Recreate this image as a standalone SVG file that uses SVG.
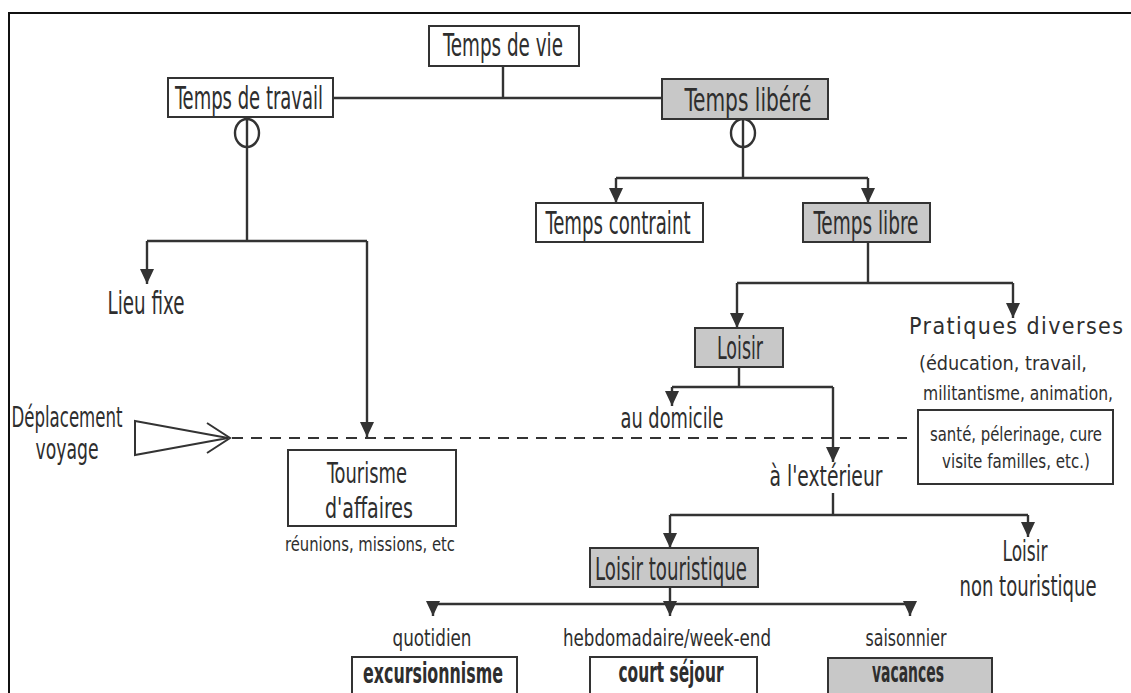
<svg xmlns="http://www.w3.org/2000/svg" width="1131" height="693" viewBox="0 0 1131 693">
<style>
.box{fill:#ffffff;stroke:#333;stroke-width:2}
.gbox{fill:#c8c8c8;stroke:#333;stroke-width:2}
.ln{fill:none;stroke:#333;stroke-width:2.4}
.arr{fill:none;stroke:#333;stroke-width:2.4;marker-end:url(#ah)}
.dash{fill:none;stroke:#333;stroke-width:2.2;stroke-dasharray:11 8}
text{font-family:"Liberation Sans Narrow","DejaVu Sans Condensed","Liberation Sans",sans-serif;fill:#2e2e2e;text-anchor:middle}
.t1{font-size:32px}
.t2{font-size:28px}
.t3{font-size:23px}
.t4{font-size:20px}
.t5{font-size:29px}
.b{font-weight:bold}
</style>
<defs>
<marker id="ah" markerUnits="userSpaceOnUse" markerWidth="16" markerHeight="14" refX="15" refY="7" orient="auto">
<path d="M0,0 L15,7 L0,14 z" fill="#333"/>
</marker>
</defs>
<rect x="0" y="0" width="1131" height="693" fill="#ffffff"/>
<path d="M9,693 V13 H1131" fill="none" stroke="#111" stroke-width="2"/>

<g id="connectors">
<path class="ln" d="M503,66 V98 M333,98 H662"/>
<path class="ln" d="M247,117 V241 M147,241 H367"/>
<ellipse cx="247" cy="133" rx="12" ry="14" fill="none" stroke="#333" stroke-width="2.4"/>
<path class="arr" d="M147,241 V284"/>
<path class="arr" d="M367,241 V437"/>
<path class="ln" d="M743,119 V178 M616,178 H868"/>
<ellipse cx="743" cy="133" rx="12" ry="14" fill="none" stroke="#333" stroke-width="2.4"/>
<path class="arr" d="M616,178 V203"/>
<path class="arr" d="M868,178 V203"/>
<path class="ln" d="M868,242 V283 M737,283 H1013"/>
<path class="arr" d="M737,283 V328"/>
<path class="arr" d="M1013,283 V318"/>
<path class="ln" d="M739,367 V387 M672,387 H833"/>
<path class="arr" d="M672,387 V406"/>
<path class="arr" d="M833,387 V462"/>
<path class="ln" d="M833,493 V515 M670,515 H1028"/>
<path class="arr" d="M670,515 V548"/>
<path class="arr" d="M1028,515 V537"/>
<path class="ln" d="M670,587 V604 M433,604 H910"/>
<path class="arr" d="M433,604 V616"/>
<path class="arr" d="M670,604 V616"/>
<path class="arr" d="M910,604 V616"/>
<path class="dash" d="M232,438 H907"/>
<path d="M135,421 L228,438 L135,455 Z" fill="none" stroke="#333" stroke-width="2"/>
<path d="M207,423 L230,438 L207,453" fill="none" stroke="#333" stroke-width="2"/>
</g>

<g id="temps-de-vie"><rect class="box" x="429" y="26" width="150" height="40"/><text class="t1" x="503" y="56" textLength="120" lengthAdjust="spacingAndGlyphs">Temps de vie</text></g>
<g id="temps-de-travail"><rect class="box" x="168" y="78" width="165" height="39"/><text class="t1" x="249" y="109" textLength="148" lengthAdjust="spacingAndGlyphs">Temps de travail</text></g>
<g id="temps-libere"><rect class="gbox" x="662" y="79" width="166" height="40"/><text class="t1" x="748" y="111" textLength="127" lengthAdjust="spacingAndGlyphs">Temps libéré</text></g>
<g id="temps-contraint"><rect class="box" x="536" y="203" width="167" height="39"/><text class="t1" x="618" y="234" textLength="145" lengthAdjust="spacingAndGlyphs">Temps contraint</text></g>
<g id="temps-libre"><rect class="gbox" x="803" y="203" width="127" height="39"/><text class="t1" x="866" y="234" textLength="105" lengthAdjust="spacingAndGlyphs">Temps libre</text></g>
<g id="lieu-fixe"><text class="t1" x="146" y="314" textLength="77" lengthAdjust="spacingAndGlyphs">Lieu fixe</text></g>
<g id="loisir"><rect class="gbox" x="695" y="328" width="88" height="39"/><text class="t1" x="740" y="359" textLength="46" lengthAdjust="spacingAndGlyphs">Loisir</text></g>
<g id="pratiques-diverses">
<text class="t3" x="1016" y="334" textLength="214" lengthAdjust="spacing">Pratiques diverses</text>
<text class="t4" x="1003" y="370" textLength="168" lengthAdjust="spacingAndGlyphs">(éducation, travail,</text>
<text class="t4" x="1018" y="400" textLength="190" lengthAdjust="spacingAndGlyphs">militantisme, animation,</text>
<rect x="918" y="410" width="195" height="74" fill="none" stroke="#333" stroke-width="2"/>
<text class="t4" x="1016" y="441" textLength="172" lengthAdjust="spacingAndGlyphs">santé, pélerinage, cure</text>
<text class="t4" x="1016" y="468" textLength="148" lengthAdjust="spacingAndGlyphs">visite familles, etc.)</text>
</g>
<g id="au-domicile"><text class="t2" x="672" y="428" textLength="103" lengthAdjust="spacingAndGlyphs">au domicile</text></g>
<g id="deplacement"><text class="t2" x="67" y="427" textLength="111" lengthAdjust="spacingAndGlyphs">Déplacement</text><text class="t2" x="67" y="459" textLength="63" lengthAdjust="spacingAndGlyphs">voyage</text></g>
<g id="tourisme-affaires"><rect class="box" x="288" y="450" width="168" height="76"/><text class="t5" x="367" y="483" textLength="80" lengthAdjust="spacingAndGlyphs">Tourisme</text><text class="t5" x="369" y="518" textLength="88" lengthAdjust="spacingAndGlyphs">d'affaires</text><text class="t4" x="370" y="551" textLength="170" lengthAdjust="spacingAndGlyphs">réunions, missions, etc</text></g>
<g id="a-l-exterieur"><text class="t2" x="826" y="486" textLength="113" lengthAdjust="spacingAndGlyphs">à l'extérieur</text></g>
<g id="loisir-touristique"><rect class="gbox" x="590" y="548" width="168" height="39"/><text class="t1" x="671" y="580" textLength="152" lengthAdjust="spacingAndGlyphs">Loisir touristique</text></g>
<g id="loisir-non-touristique"><text class="t2" x="1025" y="561" textLength="45" lengthAdjust="spacingAndGlyphs">Loisir</text><text class="t2" x="1028" y="596" textLength="137" lengthAdjust="spacingAndGlyphs">non touristique</text></g>
<g id="quotidien"><text class="t3" x="432" y="646" textLength="79" lengthAdjust="spacingAndGlyphs">quotidien</text></g>
<g id="hebdomadaire"><text class="t3" x="667" y="646" textLength="208" lengthAdjust="spacingAndGlyphs">hebdomadaire/week-end</text></g>
<g id="saisonnier"><text class="t3" x="906" y="646" textLength="81" lengthAdjust="spacingAndGlyphs">saisonnier</text></g>
<g id="excursionnisme"><rect class="box" x="352" y="657" width="165" height="50"/><text class="t2 b" x="433" y="683" textLength="140" lengthAdjust="spacingAndGlyphs">excursionnisme</text></g>
<g id="court-sejour"><rect class="box" x="590" y="657" width="167" height="50"/><text class="t2 b" x="671" y="682" textLength="105" lengthAdjust="spacingAndGlyphs">court séjour</text></g>
<g id="vacances"><rect class="gbox" x="828" y="658" width="164" height="50"/><text class="t2 b" x="908" y="682" textLength="72" lengthAdjust="spacingAndGlyphs">vacances</text></g>
</svg>
